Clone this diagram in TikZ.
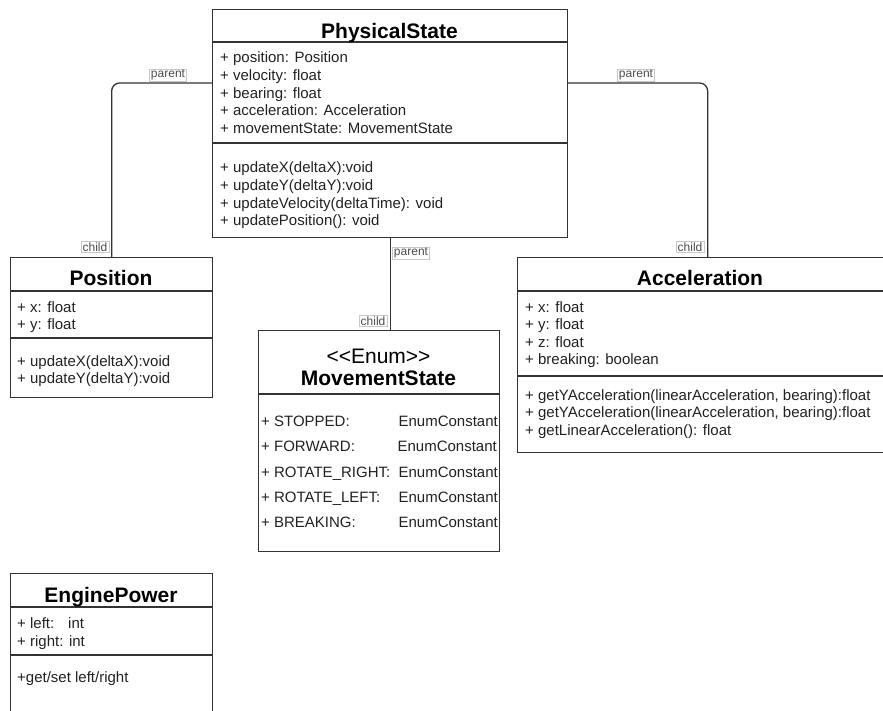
\documentclass[tikz,border=0pt]{standalone}
\usepackage{fontspec}
\setmainfont{Liberation Sans}
\definecolor{lc}{HTML}{333333}
\definecolor{tc}{HTML}{222222}
\definecolor{lb}{HTML}{C8C8C8}
\begin{document}
\begin{tikzpicture}[x=1pt,y=-1pt,
 box/.style={draw=lc, line width=1.3pt, fill=white, rectangle, inner sep=0, anchor=north west},
 sep/.style={draw=lc, line width=1.3pt},
 ttl/.style={font=\fontsize{21}{24}\selectfont\bfseries, text=black, inner sep=0, anchor=base},
 ttn/.style={font=\fontsize{21}{24}\selectfont, text=black, inner sep=0, anchor=base},
 txt/.style={font=\fontsize{15}{17}\selectfont, text=tc, inner sep=0, anchor=base west},
 txe/.style={font=\fontsize{15}{17}\selectfont, text=tc, inner sep=0, anchor=base east},
 lbl/.style={draw=lb, fill=white, line width=0.6pt, font=\fontsize{12}{13}\selectfont, text=black!70, inner xsep=1.5pt, inner ysep=1pt},
 conn/.style={draw=lc, line width=1.3pt, rounded corners=8pt}]
\useasboundingbox (0,0) rectangle (883,711);
\clip (0,0) rectangle (883,711);

% ---------- boxes ----------
\node[box, minimum width=355pt, minimum height=228pt] (phys) at (212,9) {};
\node[box, minimum width=202pt, minimum height=140pt] (pos) at (10,257) {};
\node[box, minimum width=380pt, minimum height=195pt] (acc) at (517,257) {};
\node[box, minimum width=241pt, minimum height=221pt] (ms) at (258,330) {};
\node[box, minimum width=202pt, minimum height=170pt] (eng) at (10,573) {};

% ---------- connectors ----------
\coordinate (pl) at (212,83);
\coordinate (pr) at (567,83);
\draw[conn] (pl) -| (pos.north);
\draw[conn] (pr) -| (acc.north);
\draw[conn] (phys.south) -- (phys.south |- ms.north);

\node[lbl] (lpl) at (168,75) {parent};
\node[lbl] (lcl) at (95,247) {child};
\node[lbl] (lpr) at (636,75) {parent};
\node[lbl] (lcr) at (690,247) {child};
\node[lbl] (lpm) at (411,253) {parent};
\node[lbl] (lcm) at (373,321) {child};

% ---------- PhysicalState ----------
\draw[sep] (phys.west |- 0,42) -- (phys.east |- 0,42);
\draw[sep] (phys.west |- 0,143) -- (phys.east |- 0,143);
\node[ttl] (physT) at (389.5,38.5) {PhysicalState};
\node[txt] (ph1) at (220,63) {+ position: Position};
\node[txt] (ph2) at (220,80.6) {+ velocity: float};
\node[txt] (ph3) at (220,98.2) {+ bearing: float};
\node[txt] (ph4) at (220,115.8) {+ acceleration: Acceleration};
\node[txt] (ph5) at (220,133.4) {+ movementState: MovementState};
\node[txt] (ph6) at (220,173) {+ updateX(deltaX):void};
\node[txt] (ph7) at (220,190.6) {+ updateY(deltaY):void};
\node[txt] (ph8) at (220,208.2) {+ updateVelocity(deltaTime): void};
\node[txt] (ph9) at (220,225.8) {+ updatePosition(): void};

% ---------- Position ----------
\draw[sep] (pos.west |- 0,291) -- (pos.east |- 0,291);
\draw[sep] (pos.west |- 0,338) -- (pos.east |- 0,338);
\node[ttl] (posT) at (111,285.5) {Position};
\node[txt] (po1) at (17,312) {+ x: float};
\node[txt] (po2) at (17,329.6) {+ y: float};
\node[txt] (po3) at (17,366) {+ updateX(deltaX):void};
\node[txt] (po4) at (17,383.6) {+ updateY(deltaY):void};

% ---------- Acceleration ----------
\draw[sep] (acc.west |- 0,291) -- (acc.east |- 0,291);
\draw[sep] (acc.west |- 0,376) -- (acc.east |- 0,376);
\node[ttl] (accT) at (700,285.5) {Acceleration};
\node[txt] (ac1) at (525,312) {+ x: float};
\node[txt] (ac2) at (525,329.6) {+ y: float};
\node[txt] (ac3) at (525,347.2) {+ z: float};
\node[txt] (ac4) at (525,364.8) {+ breaking: boolean};
\node[txt] (ac5) at (525,400) {+ getYAcceleration(linearAcceleration, bearing):float};
\node[txt] (ac6) at (525,417.6) {+ getYAcceleration(linearAcceleration, bearing):float};
\node[txt] (ac7) at (525,435.2) {+ getLinearAcceleration(): float};

% ---------- MovementState ----------
\draw[sep] (ms.west |- 0,394) -- (ms.east |- 0,394);
\node[ttn] (msT1) at (378.5,363.5) {{<}{<}Enum{>}{>}};
\node[ttl] (msT2) at (378.5,385.5) {MovementState};
\node[txt] (ms1) at (261,426) {+ STOPPED:};
\node[txt] (ms2) at (261,451) {+ FORWARD:};
\node[txt] (ms3) at (261,477) {+ ROTATE\_RIGHT:};
\node[txt] (ms4) at (261,502) {+ ROTATE\_LEFT:};
\node[txt] (ms5) at (261,527) {+ BREAKING:};
\node[txe] (me1) at (498,426) {EnumConstant};
\node[txe] (me2) at (497,451) {EnumConstant};
\node[txe] (me3) at (498,477) {EnumConstant};
\node[txe] (me4) at (498,502) {EnumConstant};
\node[txe] (me5) at (498,527) {EnumConstant};

% ---------- EnginePower ----------
\draw[sep] (eng.west |- 0,607) -- (eng.east |- 0,607);
\draw[sep] (eng.west |- 0,655) -- (eng.east |- 0,655);
\node[ttl] (engT) at (111,602.5) {EnginePower};
\node[txt] (en1) at (17,628) {+ left:};
\node[txt] (en1b) at (68,628) {int};
\node[txt] (en2) at (17,646) {+ right: int};
\node[txt] (en3) at (17,682) {+get/set left/right};
\end{tikzpicture}
\end{document}
